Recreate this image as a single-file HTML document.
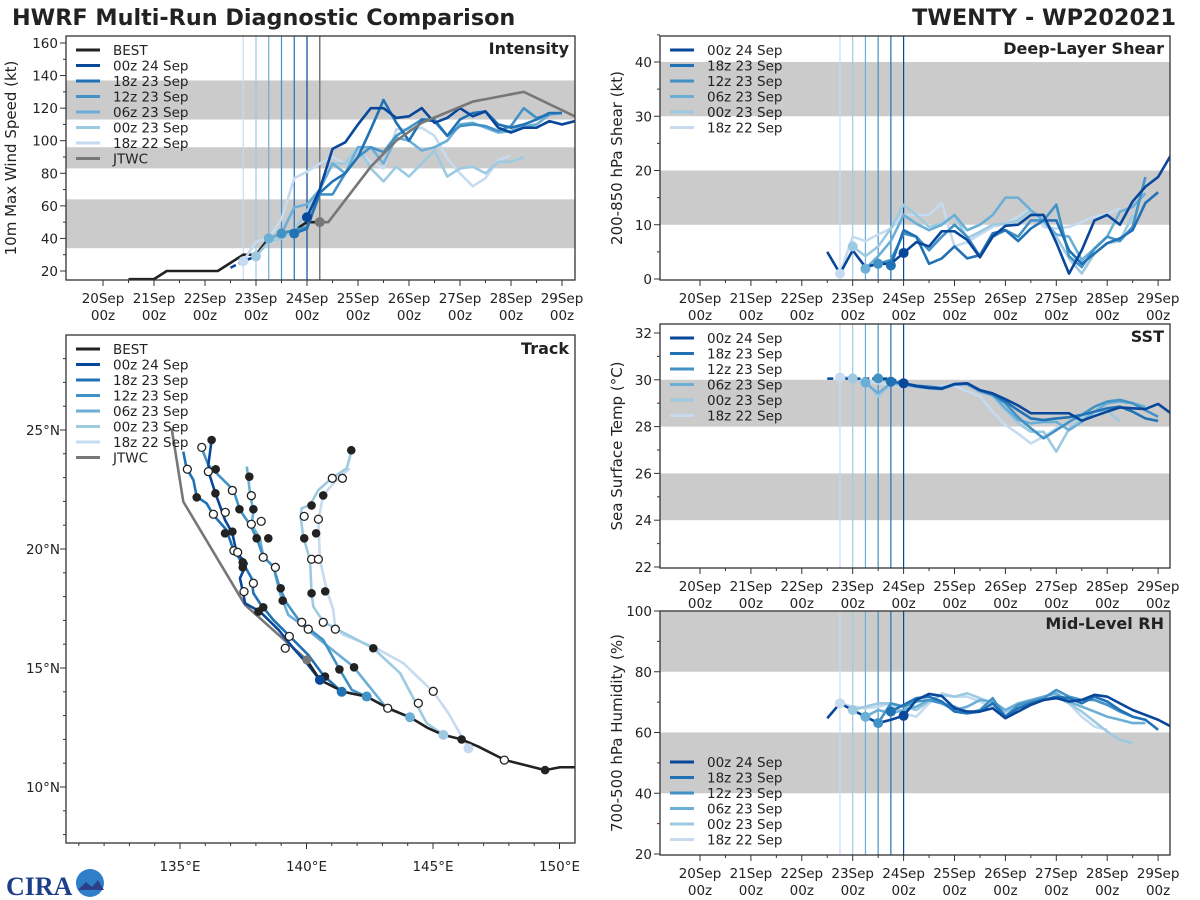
<!DOCTYPE html>
<html><head><meta charset="utf-8">
<style>
html,body{margin:0;padding:0;background:#fff;}
svg{display:block;font-family:"DejaVu Sans","Liberation Sans",sans-serif;}
</style></head>
<body>
<svg id="chart" width="1200" height="900" viewBox="0 0 1200 900" xmlns="http://www.w3.org/2000/svg">
<text x="12" y="25" font-size="22.3" font-weight="bold" fill="#222">HWRF Multi-Run Diagnostic Comparison</text>
<text x="1176" y="25" font-size="22.3" font-weight="bold" fill="#222" text-anchor="end">TWENTY - WP202021</text>
<g>
<text x="6" y="895" font-size="26" font-weight="bold" fill="#1d3f8a" font-family="Liberation Serif, serif">CIRA</text>
<circle cx="90" cy="883" r="14" fill="#2f7fc8"/>
<path d="M78 890 L86 882 L92 887 L98 880 L104 890 Z" fill="#2d3f8a"/>
</g>
</svg>
<script>
// ===== DATA =====
const runNames = ["00z 24 Sep","18z 23 Sep","12z 23 Sep","06z 23 Sep","00z 23 Sep","18z 22 Sep"];
const runInitHours = [96,90,84,78,72,66];
const dayLabels = ["20Sep","21Sep","22Sep","23Sep","24Sep","25Sep","26Sep","27Sep","28Sep","29Sep"];
// Intensity (kt)
const bestHours0 = 12;
const bestIntensity = [15,15,15,20,20,20,20,20,25,30,30,40,43,45,50,50];
const jtwcHours = [102,106,126,138,150,174,198,222];
const jtwcIntensity = [50,50,84,100,111,124,130,115];
const histStart = 60;
const hist00z24Intensity = [22,26,29];
const intStart = [96,90,84,78,72,66];
const int00z24 = [53,70,95,99,110,120,120,114,115,120,111,114,120,115,118,108,105,108,108,112,110,112];
const int18z23 = [43,46,68,75,80,90,107,125,111,100,113,112,103,113,117,118,110,108,110,113,117,117];
const int12z23 = [43,45,47,67,67,80,90,96,93,103,108,113,113,103,109,110,109,106,109,120,114,116];
const int06z23 = [40,43,59,61,70,86,80,96,96,86,102,100,94,96,100,110,111,108,105,106,109,110,116,117];
const int00z23 = [29,38,40,45,57,70,86,86,96,83,75,84,78,86,94,78,83,84,80,87,87,90];
const int18z22 = [26,38,40,52,77,81,86,90,86,94,87,83,107,107,108,103,89,80,72,77,88,91];
// Shear (kt)
const shrStart = [60,90,84,78,72,66];
const shr00z24 = [5,1,5.3,2.2,2.8,2.8,4.8,6.8,6,8.8,8.8,7.2,4,7.8,9.8,10,11.8,11.8,6.7,1,5.3,10.8,11.8,10,14.3,17,18.8,22.8];
const shr18z23 = [2.5,9,7.8,2.8,3.8,6,3.8,4.4,8.4,9,7,9.3,10.8,10.8,5.3,2.8,4.7,6.6,7.5,9,14,16];
const shr12z23 = [2.8,3.5,8.4,7.8,5.3,7.8,10,7.8,4.2,7.8,9,7.8,10.8,10.8,13.7,4.2,2.2,5.6,7.8,7,9.6,18.8];
const shr06z23 = [1.9,4.2,7,11.8,10.2,9,10,11.8,9,10,11.8,15,15,12.7,10.8,8.2,7.8,3.5,5.6,7.8,12.4,13.3,15.8];
const shr00z23 = [6,4.2,6,9.3,13.7,11.8,9.6,10.2,11.8,7.5,8.7,10,10.2,10.8,12.7,10.5,7.8,3.8,1,4.7,6.6,7,11.8];
const shr18z22 = [1,7.8,7,8.2,9.3,11.8,11.8,11.8,14,6,6.8,8.2,9.6,10.2,11.5,13,9.6,9.3,9.6,10.5,11.5,12,13];
// SST (C)
const sstStart = [60,90,84,78,72,66];
const sst00z24 = [30.05,30.05,30.05,30.05,30.05,30.05,29.85,29.73,29.65,29.62,29.82,29.85,29.56,29.42,29.17,28.9,28.57,28.57,28.57,28.57,28.25,28.45,28.64,28.82,28.78,28.75,28.97,28.57];
const sst18z23 = [29.92,29.85,29.75,29.7,29.65,29.8,29.85,29.55,29.4,29.07,28.7,28.35,28.28,28.35,28.4,28.5,28.64,28.78,28.85,28.64,28.35,28.24];
const sst12z23 = [30.06,29.95,29.85,29.73,29.65,29.62,29.8,29.85,29.55,29.35,29.0,28.4,27.93,27.5,27.85,28.2,28.5,28.85,29.07,29.14,29.0,28.7,28.42];
const sst06z23 = [29.88,29.42,29.85,29.8,29.7,29.65,29.6,29.8,29.8,29.5,29.35,28.78,28.28,28.14,28.2,28.2,27.85,28.2,28.64,29.0,29.07,29.0,28.85];
const sst00z23 = [30.06,29.99,29.28,29.85,29.75,29.7,29.62,29.6,29.8,29.8,29.5,29.3,28.7,28.14,27.78,27.78,26.93,27.9,28.35,28.64,28.7,28.21];
const sst18z22 = [30.1,30.1,29.92,29.85,29.8,29.75,29.7,29.6,29.75,29.75,29.5,29.3,28.64,28.07,27.7,27.28,27.57,27.93,28.2,28.42,28.57,28.6];
// RH (%)
const rhStart = [60,90,84,78,72,66];
const rh00z24 = [64.7,69.6,67.4,65.2,63.1,64.2,65.5,70.7,72.7,72.0,68.0,66.9,66.9,68.0,64.7,66.9,69.1,70.7,71.3,70.2,70.7,72.4,71.8,69.6,67.4,65.8,64.2,62.0];
const rh18z23 = [66.9,69.1,71.3,71.8,70.2,66.9,66.3,66.9,69.6,65.2,68.0,69.6,70.7,71.8,71.3,69.6,71.8,70.2,67.4,65.2,64.2,60.9];
const rh12z23 = [63.1,69.6,68.5,70.2,70.7,69.6,68.5,66.3,67.4,71.3,65.2,69.1,70.2,71.3,74.0,71.8,70.7,70.7,69.1,66.9,65.2,64.2];
const rh06z23 = [65.2,67.4,66.3,67.4,68.5,70.7,69.6,67.4,68.5,70.7,70.2,67.4,69.6,70.7,71.8,72.9,70.2,68.5,66.9,65.2,64.2,63.1,63.1];
const rh00z23 = [67.4,68.5,69.6,69.6,68.5,67.4,70.2,72.4,71.8,72.9,71.3,69.6,66.9,69.1,70.2,70.7,71.8,69.6,66.9,63.6,60.3,57.6,56.5];
const rh18z22 = [69.6,68.5,68.0,68.5,69.6,66.3,65.2,69.6,72.9,71.8,71.8,70.2,68.5,66.3,68.5,70.2,70.7,71.8,69.6,65.2,61.9,60.9];
// Track (lon E, lat N)
const trackBest = [[140.01,15.34],[140.53,14.5],[141.46,14.0],[142.38,13.8],[143.23,13.31],[144.09,12.93],[144.81,12.47],[145.41,12.19],[146.13,12.0],[146.79,11.7],[147.85,11.13],[149.43,10.71],[150.02,10.83],[150.61,10.83]];
const trackJtwc = [[140.01,15.34],[137.57,17.65],[135.13,21.99],[134.67,25.07]];
const track00z24 = [[140.53,14.5],[140.01,15.2],[139.48,15.83],[138.9,16.6],[138.16,17.37],[137.57,17.72],[137.5,18.14],[137.37,18.77],[137.64,19.4],[137.24,19.82],[137.07,20.66],[136.78,21.22],[136.4,22.34],[136.19,23.04],[136.12,23.53],[136.25,24.58]];
const track18z23 = [[141.39,14.0],[140.66,14.7],[140.07,15.55],[139.35,16.32],[138.69,17.02],[138.16,17.72],[137.9,18.14],[137.83,18.77],[137.57,19.26],[137.11,19.96],[136.84,20.8],[136.32,21.43],[136.05,21.92],[135.66,22.2],[135.53,22.9],[135.26,23.39],[135.13,24.09]];
const track12z23 = [[142.38,13.8],[141.79,14.08],[141.32,14.92],[140.66,16.18],[139.74,16.95],[139.22,17.72],[138.95,18.35],[138.69,19.26],[138.29,19.68],[138.03,20.45],[137.77,21.01],[137.37,21.64],[137.11,22.48],[136.58,23.04],[136.12,23.53],[135.86,24.23]];
const track06z23 = [[144.09,12.93],[143.17,13.31],[141.85,15.06],[140.53,16.18],[139.74,16.88],[139.28,17.23],[138.95,18.14],[138.69,19.26],[138.29,19.68],[138.16,20.45],[137.83,21.01],[137.9,21.57],[137.77,22.34],[137.64,23.46]];
const track00z23 = [[145.41,12.19],[144.75,12.68],[143.7,14.78],[142.64,15.83],[141.13,16.67],[140.66,16.95],[140.27,17.58],[140.2,18.14],[140.14,19.54],[139.87,20.52],[139.77,21.36],[139.81,21.71],[140.14,21.85],[140.47,22.48],[141.0,22.97],[141.59,23.39],[141.79,24.16]];
const track18z22 = [[146.4,11.62],[145.61,13.1],[145.01,14.0],[143.83,15.2],[142.64,15.9],[141.46,16.39],[141.13,16.74],[141.06,17.44],[140.8,18.28],[140.53,19.54],[140.47,21.22],[140.66,22.27],[141.19,22.9],[141.72,23.39]];
const trackFilledMarks = [[136.25,24.58],[136.41,23.35],[136.40,22.34],[135.66,22.17],[137.35,21.67],[137.07,20.73],[136.78,20.66],[137.90,21.67],[137.74,23.04],[138.03,20.45],[138.49,20.45],[137.48,19.44],[137.48,19.23],[138.98,18.35],[139.06,17.83],[138.29,17.55],[138.10,17.37],[140.73,14.64],[141.30,14.94],[141.88,15.03],[142.64,15.83],[146.13,12.0],[149.43,10.71],[141.77,24.15],[140.66,22.25],[140.20,21.83],[139.91,20.45],[140.38,20.66],[140.20,18.14],[140.74,18.22]];
const trackOpenMarks = [[135.86,24.27],[135.29,23.35],[136.12,23.25],[137.07,22.46],[137.82,22.24],[136.32,21.46],[136.79,21.54],[137.82,21.04],[138.21,21.16],[137.13,19.93],[137.28,19.86],[138.29,19.65],[138.77,19.23],[137.90,18.56],[137.53,18.21],[139.81,16.92],[140.07,16.63],[139.32,16.33],[139.16,15.83],[140.66,16.92],[141.14,16.63],[141.02,22.97],[141.42,22.97],[139.91,21.37],[140.47,21.25],[140.20,19.57],[140.47,19.57],[145.01,14.02],[144.42,13.52],[143.21,13.31],[147.82,11.13]];
const lonTicks = [135,140,145,150];
const latTicks = [10,15,20,25];

// ===== RENDER =====
const svg = document.getElementById('chart');
const NS = 'http://www.w3.org/2000/svg';
const colors = ["#08479a","#2171b5","#4292c6","#6baed6","#9ecae1","#c6dbef"];
const slug = n => n.replace(/ /g,'-').toLowerCase();
function mk(tag, attrs, parent){ const e=document.createElementNS(NS,tag); for(const k in attrs) e.setAttribute(k,attrs[k]); (parent||svg).appendChild(e); return e; }
function txt(x,y,s,size,anchor,parent,weight){ const t=mk('text',{x:x,y:y,'font-size':size,'text-anchor':anchor||'start',fill:'#222','font-weight':weight||'normal'},parent); t.textContent=s; return t; }

function timePanel(cfg){
  const g = mk('g',{});
  
  
  const X = h => cfg.x0 + h*cfg.dx/24;
  const Y = v => cfg.yA + (v-cfg.vA)*(cfg.yB-cfg.yA)/(cfg.vB-cfg.vA);
  cfg.bands.forEach(b=>{
    const r = mk('rect',{x:cfg.L,y:Y(b[1]),width:cfg.R-cfg.L,height:Y(b[0])-Y(b[1]),fill:'#cbcbcb'},g);
    
    
  });
  const cl = mk('defs',{},g);
  const cp = mk('clipPath',{id:cfg.name+'clip'},cl);
  mk('rect',{x:cfg.L,y:cfg.T,width:cfg.R-cfg.L,height:cfg.B-cfg.T},cp);
  const pg = mk('g',{'clip-path':'url(#'+cfg.name+'clip)'},g);
  for(let i=runInitHours.length-1;i>=0;i--){
    const l = mk('line',{x1:X(runInitHours[i]),x2:X(runInitHours[i]),y1:cfg.T,y2:cfg.B,stroke:colors[i],'stroke-width':1.2},pg);
    
    
  }
  if(cfg.extraV!==undefined){
    const l = mk('line',{x1:X(cfg.extraV),x2:X(cfg.extraV),y1:cfg.T,y2:cfg.B,stroke:'#777','stroke-width':1.5},pg);
    
    
  }
  (cfg.pre||[]).forEach(p=>{
    const pts = p.vals.map((v,i)=>X(p.hours? p.hours[i] : p.start+i*6)+','+Y(v)).join(' ');
    const pl = mk('polyline',{points:pts,fill:'none',stroke:p.color,'stroke-width':2.6,'stroke-dasharray':p.dash||'none','stroke-linejoin':'round'},pg);
    
    
  });
  for(let i=cfg.series.length-1;i>=0;i--){
    const vals = cfg.series[i], st = cfg.starts[i];
    const dashEnd = cfg.dashUntil && i===0 ? cfg.dashUntil : null;
    let solid=[], dashed=[];
    vals.forEach((v,k)=>{ const h=st+k*6; const p=X(h)+','+Y(v);
      if(dashEnd!==null && h<=dashEnd) dashed.push(p); if(dashEnd===null || h>=dashEnd) solid.push(p); });
    if(dashed.length){ const d=mk('polyline',{points:dashed.join(' '),fill:'none',stroke:colors[i],'stroke-width':2.6,'stroke-dasharray':'6,3'},pg);
      
       }
    const pl = mk('polyline',{points:solid.join(' '),fill:'none',stroke:colors[i],'stroke-width':2.6,'stroke-linejoin':'round'},pg);
    
    
  }
  (cfg.post||[]).forEach(p=>{
    const pts = p.vals.map((v,i)=>X(p.hours[i])+','+Y(v)).join(' ');
    const pl = mk('polyline',{points:pts,fill:'none',stroke:p.color,'stroke-width':2.6},pg);
    
    
    const c = mk('circle',{cx:X(p.hours[0]),cy:Y(p.vals[0]),r:5,fill:p.color},pg);
    
    
  });
  for(let i=cfg.series.length-1;i>=0;i--){
    const h = runInitHours[i], k = (h-cfg.starts[i])/6;
    const v = cfg.series[i][k];
    if(v===undefined) continue;
    const c = mk('circle',{cx:X(h),cy:Y(v),r:5,fill:colors[i]},pg);
    
    
  }
  const f = mk('rect',{x:cfg.L,y:cfg.T,width:cfg.R-cfg.L,height:cfg.B-cfg.T,fill:'none',stroke:'#333','stroke-width':1.3},g);
  
  
  for(let v=cfg.vMin; v<=cfg.vMax+1e-9; v+=cfg.minor){
    const y=Y(v); const major = Math.abs(((v-cfg.vMin)/cfg.major)-Math.round((v-cfg.vMin)/cfg.major))<1e-6;
    mk('line',{x1:cfg.L-(major?6:3),x2:cfg.L,y1:y,y2:y,stroke:'#333','stroke-width':1},g);
    if(major){ const t=txt(cfg.L-8,y+5,String(v),13.5,'end',g);
      
       }
  }
  for(let h=0; h<=9*24+12; h+=12){
    const x=X(h); if(x<cfg.L||x>cfg.R) continue;
    mk('line',{x1:x,x2:x,y1:cfg.B,y2:cfg.B+(h%24===0?6:3),stroke:'#333','stroke-width':1},g);
  }
  dayLabels.forEach((d,i)=>{
    const x=X(i*24);
    const t1=txt(x,cfg.B+23,d,13.5,'middle',g);
    
    
    const t2=txt(x,cfg.B+40,'00z',13.5,'middle',g);
    
    
  });
  const yc=(cfg.T+cfg.B)/2;
  const yt = mk('text',{x:0,y:0,'font-size':15,'text-anchor':'middle',fill:'#222',transform:'translate('+cfg.ytX+','+yc+') rotate(-90)'},g);
  yt.textContent = cfg.ytitle;
  
  
  const pt = txt(cfg.R-6,cfg.T+18,cfg.title,16,'end',g,'bold');
  
  
  legend(g, cfg.L+10, cfg.legY, cfg.legItems, cfg.legStep, cfg.name);
}

function legend(g,x,y,items,step,name){
  const lg = mk('g',{},g);
  
  
  items.forEach((it,i)=>{
    const yy=y+i*step;
    const l = mk('line',{x1:x,x2:x+24,y1:yy,y2:yy,stroke:it[1],'stroke-width':3},lg);
    
    
    const t = txt(x+37,yy+5,it[0],13.5,'start',lg);
    
    
  });
}
const runLegend = runNames.map((n,i)=>[n,colors[i]]);

timePanel({name:'intensity',L:66,T:36,R:575,B:280,x0:103,dx:51,yA:271,vA:20,yB:43,vB:160,vMin:20,vMax:160,major:20,minor:10,
  bands:[[34,64],[83,96],[113,137]],starts:intStart,series:[int00z24,int18z23,int12z23,int06z23,int00z23,int18z22],
  pre:[{name:'intensity-line-best',color:'#222',start:bestHours0,vals:bestIntensity},{name:'intensity-history-00z-24-sep',color:colors[0],start:histStart,vals:hist00z24Intensity,dash:'6,3'}],
  post:[{name:'intensity-line-jtwc',color:'#777',hours:jtwcHours,vals:jtwcIntensity}],
  extraV:jtwcHours[0],ytitle:'10m Max Wind Speed (kt)',ytX:16,title:'Intensity',
  legY:50,legStep:15.5,legItems:[['BEST','#222'],...runLegend,['JTWC','#777']]});
timePanel({name:'shear',L:660,T:36,R:1170,B:280,x0:700,dx:50.9,yA:279,vA:0,yB:62,vB:40,vMin:0,vMax:45,major:10,minor:5,
  bands:[[10,20],[30,40]],starts:shrStart,series:[shr00z24,shr18z23,shr12z23,shr06z23,shr00z23,shr18z22],
  ytitle:'200-850 hPa Shear (kt)',ytX:622,title:'Deep-Layer Shear',legY:50,legStep:15.5,legItems:runLegend});
timePanel({name:'sst',L:660,T:324,R:1170,B:568,x0:700,dx:50.9,yA:567,vA:22,yB:333,vB:32,vMin:22,vMax:32,major:2,minor:1,
  bands:[[24,26],[28,30]],starts:sstStart,series:[sst00z24,sst18z23,sst12z23,sst06z23,sst00z23,sst18z22],dashUntil:96,
  ytitle:'Sea Surface Temp (°C)',ytX:622,title:'SST',legY:338,legStep:15.5,legItems:runLegend});
timePanel({name:'rh',L:660,T:611,R:1170,B:855,x0:700,dx:50.9,yA:854,vA:20,yB:611,vB:100,vMin:20,vMax:100,major:20,minor:10,
  bands:[[40,60],[80,100]],starts:rhStart,series:[rh00z24,rh18z23,rh12z23,rh06z23,rh00z23,rh18z22],
  ytitle:'700-500 hPa Humidity (%)',ytX:622,title:'Mid-Level RH',legY:762,legStep:15.5,legItems:runLegend});

(function(){
  const L=66,T=335,R=575,B=843;
  const X = lon => 180 + (lon-135)*25.3;
  const Y = lat => 430 - (lat-25)*23.8;
  const g = mk('g',{});
  
  
  const d = mk('defs',{},g); const cp = mk('clipPath',{id:'trackclip'},d);
  mk('rect',{x:L,y:T,width:R-L,height:B-T},cp);
  const pg = mk('g',{'clip-path':'url(#trackclip)'},g);
  const tracks = [track00z24,track18z23,track12z23,track06z23,track00z23,track18z22];
  const draw = (arr,color,name)=>{
    const pl = mk('polyline',{points:arr.map(p=>X(p[0])+','+Y(p[1])).join(' '),fill:'none',stroke:color,'stroke-width':2.6,'stroke-linejoin':'round'},pg);
    
    
  };
  draw(trackJtwc,'#777','track-line-jtwc');
  for(let i=tracks.length-1;i>=0;i--) draw(tracks[i],colors[i],'track-line-'+slug(runNames[i]));
  draw(trackBest,'#222','track-line-best');
  trackFilledMarks.forEach(p=>{ const c=mk('circle',{cx:X(p[0]),cy:Y(p[1]),r:4.3,fill:'#222'},pg);
    
     });
  trackOpenMarks.forEach(p=>{ const c=mk('circle',{cx:X(p[0]),cy:Y(p[1]),r:4,fill:'#fff',stroke:'#222','stroke-width':1.3},pg);
    
     });
  for(let i=tracks.length-1;i>=0;i--){ const p=tracks[i][0];
    const c=mk('circle',{cx:X(p[0]),cy:Y(p[1]),r:5,fill:colors[i]},pg);
    
     }
  const jc=mk('circle',{cx:X(trackJtwc[0][0]),cy:Y(trackJtwc[0][1]),r:4.5,fill:'#777'},pg);
  
  
  const f = mk('rect',{x:L,y:T,width:R-L,height:B-T,fill:'none',stroke:'#333','stroke-width':1.3},g);
  
  
  for(let lon=131; lon<=152; lon++){ const x=X(lon); if(x<L||x>R) continue;
    mk('line',{x1:x,x2:x,y1:B,y2:B+(lon%5===0?6:3),stroke:'#333'},g); }
  for(let lat=7; lat<=30; lat++){ const y=Y(lat); if(y<T||y>B) continue;
    mk('line',{x1:L-(lat%5===0?6:3),x2:L,y1:y,y2:y,stroke:'#333'},g); }
  lonTicks.forEach(v=>{ const t=txt(X(v),B+28,v+'°E',13.5,'middle',g);
    
     });
  latTicks.forEach(v=>{ const t=txt(L-6,Y(v)+5,v+'°N',13.5,'end',g);
    
     });
  const pt = txt(R-6,T+19,'Track',16,'end',g,'bold');
  
  
  legend(g, L+10, 349, [['BEST','#222'],...runLegend,['JTWC','#777']], 15.5, 'track');
})();
</script>
</body></html>
